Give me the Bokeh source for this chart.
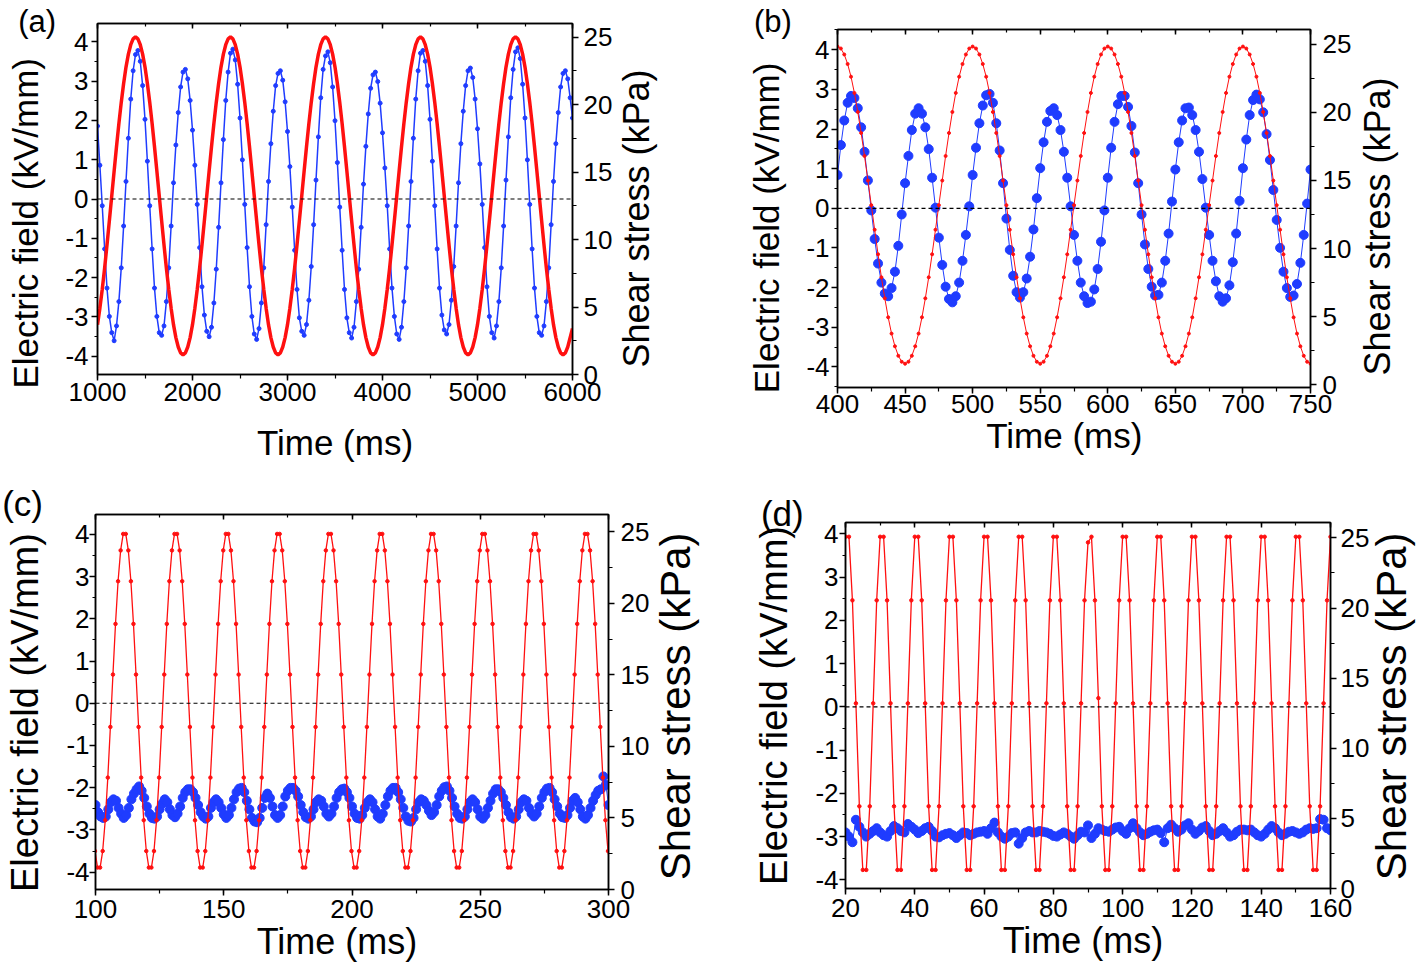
import json
import numpy as np
from bokeh.plotting import figure
from bokeh.models import (Range1d, LinearAxis, SingleIntervalTicker, Span, Label,
                          CustomJSTickFormatter, PrintfTickFormatter)
from bokeh.layouts import column, row
from bokeh.embed import file_html
from bokeh.resources import INLINE

RED = "#ff1010"
BLUE = "#1f3cff"
FONT = "Liberation Sans"
NB = "\u00a0"

# ---------------- data ----------------
# (a) time grid: 1000 ms + 25 ms steps
a_t0, a_dt = 1000, 25
a_field = [
    -3.20, -2.78, -2.30, -1.76, -1.17, -0.55, 0.08, 0.71, 1.33, 1.92, 2.46, 2.94, 3.36, 3.69, 3.93, 4.08, 4.13, 4.08, 3.93, 3.69,
    3.36, 2.94, 2.46, 1.92, 1.33, 0.71, 0.08, -0.55, -1.17, -1.76, -2.30, -2.78, -3.20, -3.53, -3.77, -3.92, -3.97, -3.92, -3.77, -3.53,
    -3.20, -2.78, -2.30, -1.76, -1.17, -0.55, 0.08, 0.71, 1.33, 1.92, 2.46, 2.94, 3.36, 3.69, 3.93, 4.08, 4.13, 4.08, 3.93, 3.69,
    3.36, 2.94, 2.46, 1.92, 1.33, 0.71, 0.08, -0.55, -1.17, -1.76, -2.30, -2.78, -3.20, -3.53, -3.77, -3.92, -3.97, -3.92, -3.77, -3.53,
    -3.20, -2.78, -2.30, -1.76, -1.17, -0.55, 0.08, 0.71, 1.33, 1.92, 2.46, 2.94, 3.36, 3.69, 3.93, 4.08, 4.13, 4.08, 3.93, 3.69,
    3.36, 2.94, 2.46, 1.92, 1.33, 0.71, 0.08, -0.55, -1.17, -1.76, -2.30, -2.78, -3.20, -3.53, -3.77, -3.92, -3.97, -3.92, -3.77, -3.53,
    -3.20, -2.78, -2.30, -1.76, -1.17, -0.55, 0.08, 0.71, 1.33, 1.92, 2.46, 2.94, 3.36, 3.69, 3.93, 4.08, 4.13, 4.08, 3.93, 3.69,
    3.36, 2.94, 2.46, 1.92, 1.33, 0.71, 0.08, -0.55, -1.17, -1.76, -2.30, -2.78, -3.20, -3.53, -3.77, -3.92, -3.97, -3.92, -3.77, -3.53,
    -3.20, -2.78, -2.30, -1.76, -1.17, -0.55, 0.08, 0.71, 1.33, 1.92, 2.46, 2.94, 3.36, 3.69, 3.93, 4.08, 4.13, 4.08, 3.93, 3.69,
    3.36, 2.94, 2.46, 1.92, 1.33, 0.71, 0.08, -0.55, -1.17, -1.76, -2.30, -2.78, -3.20, -3.53, -3.77, -3.92, -3.97, -3.92, -3.77, -3.53,
    -3.30,
]
a_stress = [
    18.4, 15.5,
    12.5, 9.3, 6.4, 4.3, 3.1, 2.5, 3.6, 5.4, 7.9, 11.0, 14.3, 17.5, 20.4, 22.5, 23.7, 24.0, 23.2, 21.4, 18.9, 15.8,
    12.5, 9.3, 6.4, 4.3, 3.1, 2.9, 3.6, 5.4, 7.9, 11.0, 14.2, 17.0, 19.4, 21.3, 22.4, 22.6, 21.9, 20.3, 18.1, 15.5,
    12.6, 9.4, 6.5, 4.4, 3.2, 2.8, 3.5, 5.3, 7.8, 10.9, 14.2, 17.4, 20.3, 22.4, 23.8, 24.1, 23.3, 21.5, 19.0, 15.9,
    12.6, 9.4, 6.5, 4.3, 3.0, 2.6, 3.4, 5.3, 7.9, 11.1, 14.3, 17.1, 19.5, 21.4, 22.3, 22.5, 21.8, 20.2, 18.0, 15.4,
    12.4, 9.2, 6.3, 4.2, 3.2, 2.9, 3.7, 5.5, 8.0, 11.1, 14.4, 17.6, 20.5, 22.6, 23.6, 23.9, 23.1, 21.3, 18.8, 15.7,
    12.4, 9.2, 6.3, 4.2, 3.1, 2.7, 3.5, 5.4, 7.8, 10.9, 14.1, 16.9, 19.3, 21.2, 22.2, 22.4, 21.7, 20.1, 17.9, 15.3,
    12.5, 9.3, 6.4, 4.3, 3.0, 2.6, 3.5, 5.4, 7.9, 11.0, 14.3, 17.5, 20.4, 22.5, 23.8, 24.0, 23.2, 21.4, 18.9, 15.8,
    12.5, 9.3, 6.4, 4.4, 3.3, 3.0, 3.7, 5.5, 8.0, 11.0, 14.2, 17.1, 19.5, 21.4, 22.5, 22.7, 22.0, 20.4, 18.2, 15.6,
    12.6, 9.4, 6.5, 4.3, 3.1, 2.7, 3.6, 5.4, 7.9, 11.0, 14.4, 17.6, 20.5, 22.6, 23.9, 24.2, 23.4, 21.5, 19.0, 15.9,
    12.6, 9.3, 6.4, 4.3, 3.1, 2.9, 3.6, 5.4, 7.9, 11.1, 14.3, 17.1, 19.4, 21.3, 22.3, 22.5, 21.9, 20.5, 19.0,
]

# (b) time grid: 400 ms + 2.5 ms steps
b_t0, b_dt = 400, 2.5
b_field = [
    4.08, 4.03, 3.88, 3.64, 3.32, 2.91, 2.43, 1.90, 1.32, 0.70, 0.08, -0.54, -1.16, -1.74, -2.27, -2.75, -3.16, -3.48, -3.72, -3.87,
    -3.92, -3.87, -3.72, -3.48, -3.16, -2.75, -2.27, -1.74, -1.16, -0.54, 0.08, 0.70, 1.32, 1.90, 2.43, 2.91, 3.32, 3.64, 3.88, 4.03,
    4.08, 4.03, 3.88, 3.64, 3.32, 2.91, 2.43, 1.90, 1.32, 0.70, 0.08, -0.54, -1.16, -1.74, -2.27, -2.75, -3.16, -3.48, -3.72, -3.87,
    -3.92, -3.87, -3.72, -3.48, -3.16, -2.75, -2.27, -1.74, -1.16, -0.54, 0.08, 0.70, 1.32, 1.90, 2.43, 2.91, 3.32, 3.64, 3.88, 4.03,
    4.08, 4.03, 3.88, 3.64, 3.32, 2.91, 2.43, 1.90, 1.32, 0.70, 0.08, -0.54, -1.16, -1.74, -2.27, -2.75, -3.16, -3.48, -3.72, -3.87,
    -3.92, -3.87, -3.72, -3.48, -3.16, -2.75, -2.27, -1.74, -1.16, -0.54, 0.08, 0.70, 1.32, 1.90, 2.43, 2.91, 3.32, 3.64, 3.88, 4.03,
    4.08, 4.03, 3.88, 3.64, 3.32, 2.91, 2.43, 1.90, 1.32, 0.70, 0.08, -0.54, -1.16, -1.74, -2.27, -2.75, -3.16, -3.48, -3.72, -3.87,
    -3.92,
]
b_stress = [
    15.4, 17.6, 19.4, 20.7, 21.2,
    21.05, 20.3, 18.9, 17.1, 15.0, 12.8, 10.7, 8.9, 7.5, 6.7,
    6.5, 7.1, 8.3, 10.2, 12.5, 14.8, 16.8, 18.7, 19.9, 20.3,
    19.9, 18.9, 17.3, 15.2, 13.0, 10.8, 8.8, 7.2, 6.3, 6.05,
    6.5, 7.5, 9.1, 11.0, 13.1, 15.4, 17.4, 19.2, 20.5, 21.25,
    21.35, 20.7, 19.2, 17.2, 14.8, 12.2, 9.9, 8.0, 6.8, 6.4,
    6.8, 7.8, 9.4, 11.4, 13.7, 15.9, 17.8, 19.3, 20.1, 20.3,
    19.8, 18.7, 17.1, 15.2, 13.1, 11.0, 9.1, 7.5, 6.5, 6.0,
    6.1, 7.0, 8.5, 10.5, 12.8, 15.2, 17.4, 19.3, 20.6, 21.2,
    21.2, 20.4, 19.0, 17.05, 14.8, 12.5, 10.3, 8.5, 7.2, 6.55,
    6.6, 7.5, 9.1, 11.1, 13.45, 15.8, 17.8, 19.4, 20.3, 20.35,
    19.8, 18.7, 17.1, 15.1, 13.0, 11.0, 9.1, 7.6, 6.5, 6.1,
    6.35, 7.3, 9.0, 11.1, 13.5, 15.9, 18.0, 19.8, 20.9, 21.3,
    20.95, 20.0, 18.4, 16.5, 14.3, 12.1, 10.05, 8.3, 7.1, 6.45,
    6.55, 7.4, 8.95, 11.0, 13.3, 15.8,
]

# (c) field grid: 99.8 ms + 1 ms steps; stress grid: 100 ms + 1 ms steps
c_field_t0, c_field_dt = 99.8, 1
c_field = [
    -3.50,
    -3.89, -3.89, -3.50, -2.77, -1.76, -0.56, 0.68, 1.88, 2.89, 3.62, 4.01, 4.01, 3.62, 2.89, 1.88, 0.68, -0.56, -1.76, -2.77, -3.50,
    -3.89, -3.89, -3.50, -2.77, -1.76, -0.56, 0.68, 1.88, 2.89, 3.62, 4.01, 4.01, 3.62, 2.89, 1.88, 0.68, -0.56, -1.76, -2.77, -3.50,
    -3.89, -3.89, -3.50, -2.77, -1.76, -0.56, 0.68, 1.88, 2.89, 3.62, 4.01, 4.01, 3.62, 2.89, 1.88, 0.68, -0.56, -1.76, -2.77, -3.50,
    -3.89, -3.89, -3.50, -2.77, -1.76, -0.56, 0.68, 1.88, 2.89, 3.62, 4.01, 4.01, 3.62, 2.89, 1.88, 0.68, -0.56, -1.76, -2.77, -3.50,
    -3.89, -3.89, -3.50, -2.77, -1.76, -0.56, 0.68, 1.88, 2.89, 3.62, 4.01, 4.01, 3.62, 2.89, 1.88, 0.68, -0.56, -1.76, -2.77, -3.50,
    -3.89, -3.89, -3.50, -2.77, -1.76, -0.56, 0.68, 1.88, 2.89, 3.62, 4.01, 4.01, 3.62, 2.89, 1.88, 0.68, -0.56, -1.76, -2.77, -3.50,
    -3.89, -3.89, -3.50, -2.77, -1.76, -0.56, 0.68, 1.88, 2.89, 3.62, 4.01, 4.01, 3.62, 2.89, 1.88, 0.68, -0.56, -1.76, -2.77, -3.50,
    -3.89, -3.89, -3.50, -2.77, -1.76, -0.56, 0.68, 1.88, 2.89, 3.62, 4.01, 4.01, 3.62, 2.89, 1.88, 0.68, -0.56, -1.76, -2.77, -3.50,
    -3.89, -3.89, -3.50, -2.77, -1.76, -0.56, 0.68, 1.88, 2.89, 3.62, 4.01, 4.01, 3.62, 2.89, 1.88, 0.68, -0.56, -1.76, -2.77, -3.50,
    -3.89, -3.89, -3.50, -2.77, -1.76, -0.56, 0.68, 1.88, 2.89, 3.62, 4.01, 4.01, 3.62, 2.89, 1.88, 0.68, -0.56, -1.76, -2.77, -3.50,
    -3.89,
]
c_stress_t0, c_stress_dt = 100, 1
c_stress = [
    5.9, 5.4, 5.1, 5.0, 5.1, 5.6, 6.1, 6.3, 6.2, 5.7, 5.3, 5.0, 5.2, 5.7, 6.3, 6.7, 7.0,
    7.2, 6.9, 6.4, 5.8, 5.3, 5.0, 4.95, 5.1, 5.6, 6.0, 6.3, 6.1, 5.6, 5.2, 5.05, 5.3, 5.8, 6.4, 6.8, 7.0,
    7.0, 6.8, 6.4, 5.9, 5.4, 5.1, 4.95, 5.1, 5.7, 6.1, 6.3, 6.1, 5.7, 5.25, 5.0, 5.2, 5.7, 6.3, 6.8, 7.05,
    7.1, 6.8, 6.2, 5.6, 5.0, 4.75, 4.7, 5.0, 5.7, 6.4, 6.7, 6.4, 5.8, 5.2, 5.0, 5.2, 5.8, 6.5, 6.9, 7.1,
    7.1, 6.9, 6.5, 5.9, 5.4, 5.05, 4.95, 5.1, 5.6, 6.1, 6.3, 6.2, 5.8, 5.3, 5.1, 5.3, 5.8, 6.4, 6.8, 7.0,
    7.05, 6.8, 6.4, 5.8, 5.3, 5.0, 4.95, 5.2, 5.7, 6.1, 6.3, 6.1, 5.6, 5.1, 4.95, 5.3, 5.9, 6.5, 6.9, 7.1,
    7.1, 6.8, 6.3, 5.7, 5.1, 4.8, 4.75, 5.0, 5.6, 6.1, 6.3, 6.2, 5.9, 5.5, 5.2, 5.4, 5.9, 6.5, 6.9, 7.15,
    7.2, 6.9, 6.4, 5.8, 5.3, 5.0, 4.95, 5.1, 5.6, 6.1, 6.3, 6.1, 5.6, 5.1, 4.95, 5.2, 5.7, 6.2, 6.7, 7.0,
    7.0, 6.8, 6.4, 5.9, 5.4, 5.05, 4.95, 5.1, 5.6, 6.1, 6.3, 6.2, 5.7, 5.3, 5.1, 5.3, 5.8, 6.4, 6.8, 7.05,
    7.1, 6.8, 6.3, 5.8, 5.3, 5.05, 5.0, 5.2, 5.7, 6.2, 6.4, 6.1, 5.6, 5.1, 4.95, 5.2, 5.7, 6.2, 6.6, 6.9,
    7.0, 7.9, 7.3, 5.9,
]

# (d) time grid: 20 ms + 1 ms steps
d_t0, d_dt = 20, 1
d_field = [
    3.93, 3.93, 2.46, 0.08, -2.30, -3.77, -3.77, -2.30, 0.08, 2.46,
    3.93, 3.93, 2.46, 0.08, -2.30, -3.77, -3.77, -2.30, 0.08, 2.46,
    3.93, 3.93, 2.46, 0.08, -2.30, -3.77, -3.77, -2.30, 0.08, 2.46,
    3.93, 3.93, 2.46, 0.08, -2.30, -3.77, -3.77, -2.30, 0.08, 2.46,
    3.93, 3.93, 2.46, 0.08, -2.30, -3.77, -3.77, -2.30, 0.08, 2.46,
    3.93, 3.93, 2.46, 0.08, -2.30, -3.77, -3.77, -2.30, 0.08, 2.46,
    3.93, 3.93, 2.46, 0.08, -2.30, -3.77, -3.77, -2.30, 0.08, 2.46,
    3.80, 3.93, 2.46, 0.20, -2.30, -3.77, -3.77, -2.30, 0.08, 2.46,
    3.93, 3.93, 2.46, 0.08, -2.30, -3.77, -3.77, -2.30, 0.08, 2.46,
    3.93, 3.93, 2.46, 0.08, -2.30, -3.77, -3.77, -2.30, 0.08, 2.46,
    3.93, 3.93, 2.46, 0.08, -2.30, -3.77, -3.77, -2.30, 0.08, 2.46,
    3.93, 3.93, 2.46, 0.08, -2.30, -3.77, -3.77, -2.30, 0.08, 2.46,
    3.93, 3.93, 2.46, 0.08, -2.30, -3.77, -3.77, -2.30, 0.08, 2.46,
    3.93, 3.93, 2.46, 0.08, -2.30, -3.77, -3.77, -2.30, 0.08, 2.46,
    3.93,
]
d_stress = [
    4.0, 3.7, 3.3, 4.9, 4.4, 4.0, 3.7, 3.9, 4.1, 4.3,
    4.0, 3.8, 3.7, 4.1, 4.45, 4.3, 4.1, 4.0, 4.6, 4.4,
    4.2, 3.95, 4.1, 4.3, 4.4, 4.1, 3.7, 3.65, 3.8, 3.9,
    3.95, 3.8, 3.6, 3.8, 4.0, 3.95, 3.8, 3.9, 4.0, 4.05,
    4.1, 3.9, 4.3, 4.7, 4.0, 3.7, 3.55, 3.7, 3.95, 4.0,
    3.2, 3.6, 4.0, 4.1, 4.0, 4.0, 4.1, 4.05, 4.0, 3.9,
    3.75, 3.7, 3.85, 4.0, 3.9, 3.7, 3.55, 3.8, 4.05, 4.0,
    4.5, 3.6, 3.9, 4.3, 4.2, 4.1, 4.05, 4.2, 4.35, 4.4,
    4.1, 3.9, 4.3, 4.65, 4.3, 4.0, 3.8, 3.9, 4.05, 4.15,
    4.2, 3.95, 3.3, 4.3, 4.55, 4.3, 4.05, 4.2, 4.5, 4.65,
    4.2, 3.9, 4.1, 4.35, 4.45, 4.1, 3.8, 3.9, 4.1, 4.3,
    4.0, 3.7, 3.8, 4.05, 4.2, 4.2, 4.15, 4.2, 4.0, 3.8,
    3.7, 3.9, 4.2, 4.45, 4.3, 4.0, 3.8, 3.9, 4.05, 4.1,
    4.0, 3.9, 4.0, 4.2, 4.3, 4.25, 4.3, 4.95, 4.9, 4.3,
    4.15,
]

X_LABEL = "Time (ms)"
YL_LABEL = "Electric field (kV/mm)"
YR_LABEL = "Shear stress  (kPa)"


def grid(t0, dt, vals):
    return t0 + dt * np.arange(len(vals))


def style(ax, tick_fs, lab_fs, s1, s2, tout, mout):
    ax.axis_line_color = "black"
    ax.axis_line_width = 1.5
    ax.major_tick_line_color = "black"
    ax.major_tick_line_width = 1.5
    ax.minor_tick_line_color = "black"
    ax.minor_tick_line_width = 1.2
    ax.major_tick_in = 0
    ax.major_tick_out = tout
    ax.minor_tick_in = 0
    ax.minor_tick_out = mout
    ax.major_label_text_font = FONT
    ax.major_label_text_font_size = f"{tick_fs}px"
    ax.major_label_text_color = "black"
    ax.axis_label_text_font = FONT
    ax.axis_label_text_font_size = f"{lab_fs}px"
    ax.axis_label_text_font_style = "normal"
    ax.axis_label_text_color = "black"
    ax.major_label_standoff = s1
    ax.axis_label_standoff = s2


def panel(c):
    p = figure(width=c["W"], height=c["H"], x_range=Range1d(*c["xr"]), y_range=Range1d(*c["ylr"]),
               output_backend="svg", toolbar_location=None,
               min_border_left=c["mb"][0], min_border_right=c["mb"][1],
               min_border_top=c["mb"][2], min_border_bottom=c["mb"][3])
    p.extra_y_ranges = {"s": Range1d(*c["yrr"])}
    p.xgrid.visible = False
    p.ygrid.visible = False
    p.outline_line_color = "black"
    p.outline_line_width = 1.5
    p.outline_line_alpha = 1.0
    p.background_fill_color = "white"
    p.border_fill_color = "white"

    xa = p.xaxis[0]
    xa.ticker = SingleIntervalTicker(interval=c["xint"], num_minor_ticks=2)
    xa.formatter = PrintfTickFormatter(format="%d")
    xa.axis_label = X_LABEL + NB * c["x_nb"]
    style(xa, c["tfs"], c["x_fs"], c["x_s1"], c["x_s2"], 6, 4)

    ya = p.yaxis[0]
    ya.ticker = SingleIntervalTicker(interval=1, num_minor_ticks=2)
    ya.formatter = PrintfTickFormatter(format="%d")
    ya.axis_label = YL_LABEL + NB * c["yl_nb"]
    style(ya, c["tfs"], c["yl_fs"], c["yl_s1"], c["yl_s2"], 6, 3)

    ra = LinearAxis(y_range_name="s", ticker=SingleIntervalTicker(interval=5, num_minor_ticks=2),
                    formatter=PrintfTickFormatter(format="%d"))
    style(ra, c["tfs"], 10, c["yr_s1"], 0, 6, 4)
    p.add_layout(ra, "right")

    p.add_layout(Label(x=c["yr_xy"][0], y=c["yr_xy"][1], x_units="screen", y_units="screen",
                       text=YR_LABEL, angle=90, angle_units="deg",
                       text_align="center", text_baseline="alphabetic",
                       text_font=FONT, text_font_size=f"{c['yr_fs']}px", text_color="black"), "right")

    letter = "(%s)" % c["letter"] + NB * c["let_nb"]
    code = "return Math.abs(tick - (%r)) < 1e-6 ? %s : '';" % (float(c["xr"][0]), json.dumps(letter))
    ta = LinearAxis(ticker=SingleIntervalTicker(interval=c["xint"], num_minor_ticks=2),
                    formatter=CustomJSTickFormatter(code=code))
    ta.axis_line_color = "black"
    ta.axis_line_width = 1.5
    ta.major_tick_line_color = "black"
    ta.major_tick_line_width = 1.5
    ta.minor_tick_line_color = "black"
    ta.minor_tick_line_width = 1.2
    ta.major_tick_in = 5
    ta.major_tick_out = 0
    ta.minor_tick_in = 3
    ta.minor_tick_out = 0
    ta.major_label_standoff = c["let_so"]
    ta.major_label_text_font = FONT
    ta.major_label_text_font_size = f"{c['let_fs']}px"
    ta.major_label_text_color = "black"
    p.add_layout(ta, "above")

    p.add_layout(Span(location=0, dimension="width", line_color="black", line_width=1.2, line_dash="4 3"))
    return p


cfg_a = dict(letter="a", W=705, H=480, mb=(97, 133, 23, 106), xr=(1000, 6000), ylr=(-4.47, 4.47),
             yrr=(0, 26.0), xint=1000, tfs=26, x_fs=35, x_nb=0, x_s1=2, x_s2=19,
             yl_fs=35, yl_nb=5, yl_s1=3, yl_s2=17, yr_s1=5, yr_fs=36, yr_xy=(21, 161),
             let_fs=31, let_nb=14, let_so=-15)
cfg_b = dict(letter="b", W=717, H=480, mb=(132, 112, 29, 93), xr=(400, 750), ylr=(-4.52, 4.51),
             yrr=(-0.2, 26.08), xint=50, tfs=26, x_fs=35, x_nb=2, x_s1=1, x_s2=0,
             yl_fs=35, yl_nb=4, yl_s1=2, yl_s2=17, yr_s1=6, yr_fs=36, yr_xy=(23, 166),
             let_fs=31, let_nb=15, let_so=-9)
cfg_c = dict(letter="c", W=705, H=495, mb=(95, 97, 33, 86), xr=(100, 300), ylr=(-4.41, 4.47),
             yrr=(0, 26.2), xint=50, tfs=26, x_fs=36, x_nb=3, x_s1=4, x_s2=0,
             yl_fs=38, yl_nb=2, yl_s1=0, yl_s2=17, yr_s1=6, yr_fs=42, yr_xy=(23, 189),
             let_fs=35, let_nb=15, let_so=-8)
cfg_d = dict(letter="d", W=717, H=495, mb=(140, 92, 42, 87), xr=(20, 160), ylr=(-4.2, 4.26),
             yrr=(0, 26.1), xint=20, tfs=26, x_fs=36, x_nb=1, x_s1=4, x_s2=0,
             yl_fs=38, yl_nb=0, yl_s1=1, yl_s2=17, yr_s1=4, yr_fs=42, yr_xy=(19, 188),
             let_fs=35, let_nb=13, let_so=-10)

# (a)
pa = panel(cfg_a)
ts_ = grid(a_t0, a_dt, a_stress)
tf_ = grid(a_t0, a_dt, a_field)
pa.line(ts_, a_stress, y_range_name="s", line_color=BLUE, line_width=1.5)
pa.scatter(ts_, a_stress, y_range_name="s", size=4, color=BLUE, marker="circle")
pa.line(tf_, a_field, line_color=RED, line_width=3.5)

# (b)
pb = panel(cfg_b)
tbs = grid(b_t0, b_dt, b_stress)
tbf = grid(b_t0, b_dt, b_field)
pb.line(tbs, b_stress, y_range_name="s", line_color=BLUE, line_width=1)
pb.scatter(tbs, b_stress, y_range_name="s", size=9, color=BLUE, marker="circle")
pb.line(tbf, b_field, line_color=RED, line_width=1)
pb.scatter(tbf, b_field, size=3, color=RED, marker="circle")

# (c)
pc = panel(cfg_c)
tcs = grid(c_stress_t0, c_stress_dt, c_stress)
tcf = grid(c_field_t0, c_field_dt, c_field)
pc.line(tcs, c_stress, y_range_name="s", line_color=BLUE, line_width=1)
pc.scatter(tcs, c_stress, y_range_name="s", size=9, color=BLUE, marker="circle")
pc.line(tcf, c_field, line_color=RED, line_width=1.3)
pc.scatter(tcf, c_field, size=3.5, color=RED, marker="circle")

# (d)
pd_ = panel(cfg_d)
tds = grid(d_t0, d_dt, d_stress)
tdf = grid(d_t0, d_dt, d_field)
pd_.line(tds, d_stress, y_range_name="s", line_color=BLUE, line_width=1)
pd_.scatter(tds, d_stress, y_range_name="s", size=9, color=BLUE, marker="circle")
pd_.line(tdf, d_field, line_color=RED, line_width=1.3)
pd_.scatter(tdf, d_field, size=3.5, color=RED, marker="circle")

layout = column(row(column(pa), column(pb)), row(column(pc), column(pd_)))
open("out.html", "w").write(file_html(layout, INLINE))
